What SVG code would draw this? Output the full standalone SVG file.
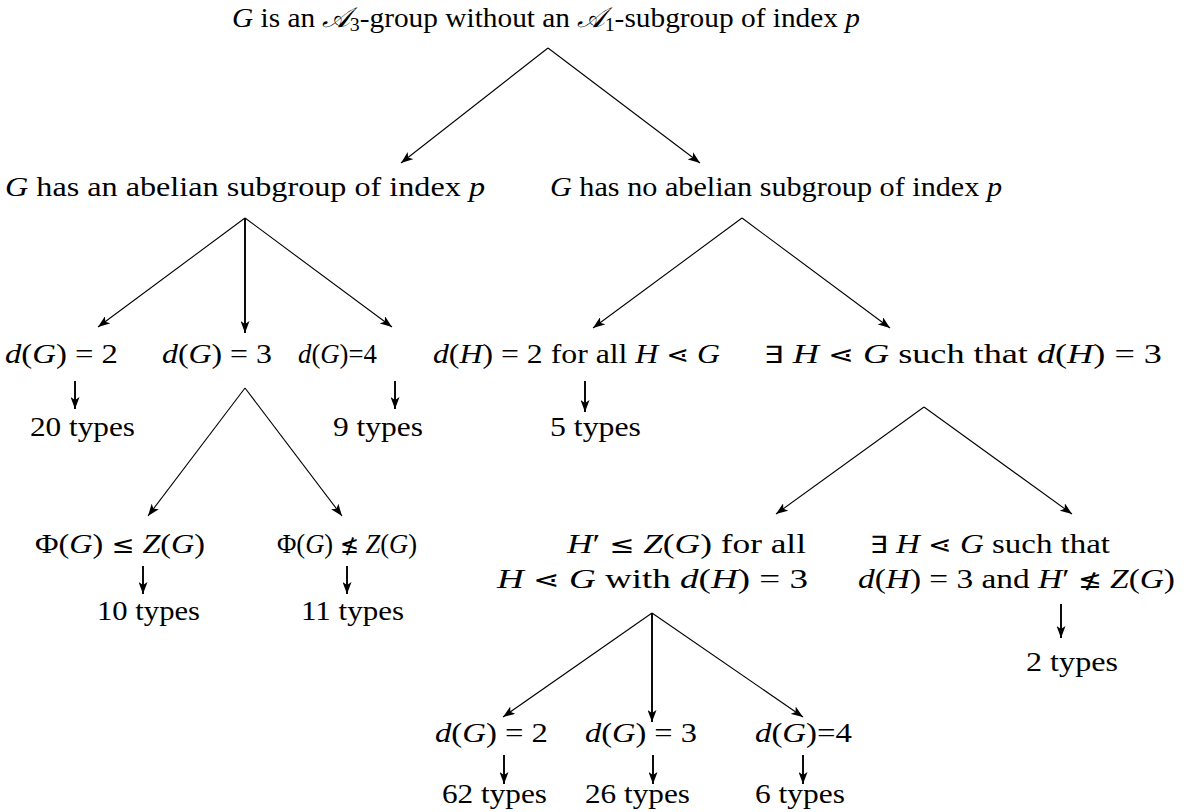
<svg xmlns="http://www.w3.org/2000/svg" width="1188" height="812" viewBox="0 0 1188 812">
<style>
text{font-family:"Liberation Serif","Times New Roman","DejaVu Serif",serif;font-size:28px;font-weight:400;fill:#000}
.i{font-style:italic}
.sub{font-size:19px}
.m{font-family:"DejaVu Sans",sans-serif;font-size:24px}
.thin{stroke:#000;stroke-width:1.1;fill:none}
.thick{stroke:#000;stroke-width:1.9;fill:none}
</style>
<defs>
<marker id="ah" markerUnits="userSpaceOnUse" markerWidth="13" markerHeight="9" refX="12" refY="4.5" orient="auto">
<path d="M0,0 L12,4.5 L0,9 L3,4.5 Z" fill="#000"/>
</marker>
</defs>
<rect width="1188" height="812" fill="#fff"/>
<g id="connectors">
<path class="thin" d="M548,48 L401,163" marker-end="url(#ah)"/>
<path class="thin" d="M548,48 L700,163" marker-end="url(#ah)"/>
<path class="thin" d="M245,218 L98,327" marker-end="url(#ah)"/>
<path class="thick" d="M245,218 L245,333" marker-end="url(#ah)"/>
<path class="thin" d="M245,218 L392,327" marker-end="url(#ah)"/>
<path class="thin" d="M742,218 L593,328" marker-end="url(#ah)"/>
<path class="thin" d="M742,218 L890,328" marker-end="url(#ah)"/>
<path class="thick" d="M75,381 L75,409" marker-end="url(#ah)"/>
<path class="thick" d="M395,381 L395,409" marker-end="url(#ah)"/>
<path class="thick" d="M585,381 L585,412" marker-end="url(#ah)"/>
<path class="thin" d="M245,388 L148,516" marker-end="url(#ah)"/>
<path class="thin" d="M245,388 L342,516" marker-end="url(#ah)"/>
<path class="thin" d="M924,407 L776,514" marker-end="url(#ah)"/>
<path class="thin" d="M924,407 L1072,514" marker-end="url(#ah)"/>
<path class="thick" d="M143,566 L143,594" marker-end="url(#ah)"/>
<path class="thick" d="M347,566 L347,594" marker-end="url(#ah)"/>
<path class="thick" d="M1061,604 L1061,638" marker-end="url(#ah)"/>
<path class="thin" d="M652,613 L503,717" marker-end="url(#ah)"/>
<path class="thick" d="M652,613 L652,722" marker-end="url(#ah)"/>
<path class="thin" d="M652,613 L803,717" marker-end="url(#ah)"/>
<path class="thick" d="M504,755 L504,784" marker-end="url(#ah)"/>
<path class="thick" d="M653,755 L653,784" marker-end="url(#ah)"/>
<path class="thick" d="M803,755 L803,784" marker-end="url(#ah)"/>
</g>
<g id="root"><text x="232" y="27" textLength="628" lengthAdjust="spacingAndGlyphs"><tspan class="i">G</tspan> is an <tspan class="i">𝒜</tspan><tspan class="sub" dy="4">3</tspan><tspan dy="-4">-group without an </tspan><tspan class="i">𝒜</tspan><tspan class="sub" dy="4">1</tspan><tspan dy="-4">-subgroup of index </tspan><tspan class="i">p</tspan></text></g>
<g id="abelian"><text x="5" y="196" textLength="480" lengthAdjust="spacingAndGlyphs"><tspan class="i">G</tspan> has an abelian subgroup of index <tspan class="i">p</tspan></text></g>
<g id="noabelian"><text x="550" y="196" textLength="452" lengthAdjust="spacingAndGlyphs"><tspan class="i">G</tspan> has no abelian subgroup of index <tspan class="i">p</tspan></text></g>
<g id="a-d2"><text x="5" y="363" textLength="113" lengthAdjust="spacingAndGlyphs"><tspan class="i">d</tspan>(<tspan class="i">G</tspan>) = 2</text></g>
<g id="a-d3"><text x="162" y="363" textLength="110" lengthAdjust="spacingAndGlyphs"><tspan class="i">d</tspan>(<tspan class="i">G</tspan>) = 3</text></g>
<g id="a-d4"><text x="298" y="363" textLength="79" lengthAdjust="spacingAndGlyphs"><tspan class="i">d</tspan>(<tspan class="i">G</tspan>)=4</text></g>
<g id="n-all"><text x="433" y="363" textLength="287" lengthAdjust="spacingAndGlyphs"><tspan class="i">d</tspan>(<tspan class="i">H</tspan>) = 2 for all <tspan class="i">H</tspan> <tspan class="m">⋖</tspan> <tspan class="i">G</tspan></text></g>
<g id="n-exists"><text x="764" y="363" textLength="398" lengthAdjust="spacingAndGlyphs"><tspan class="m">∃</tspan> <tspan class="i">H</tspan> <tspan class="m">⋖</tspan> <tspan class="i">G</tspan> such that <tspan class="i">d</tspan>(<tspan class="i">H</tspan>) = 3</text></g>
<g id="t20"><text x="30" y="436" textLength="105" lengthAdjust="spacingAndGlyphs">20 types</text></g>
<g id="t9"><text x="333" y="436" textLength="90" lengthAdjust="spacingAndGlyphs">9 types</text></g>
<g id="t5"><text x="550" y="436" textLength="91" lengthAdjust="spacingAndGlyphs">5 types</text></g>
<g id="phi-le"><text x="35" y="553" textLength="170" lengthAdjust="spacingAndGlyphs">Φ(<tspan class="i">G</tspan>) <tspan class="m">≤</tspan> <tspan class="i">Z</tspan>(<tspan class="i">G</tspan>)</text></g>
<g id="phi-nle"><text x="277" y="553" textLength="140" lengthAdjust="spacingAndGlyphs">Φ(<tspan class="i">G</tspan>) <tspan class="m">≰</tspan> <tspan class="i">Z</tspan>(<tspan class="i">G</tspan>)</text></g>
<g id="hprime-le"><text x="567" y="553" textLength="239" lengthAdjust="spacingAndGlyphs"><tspan class="i">H</tspan>′ <tspan class="m">≤</tspan> <tspan class="i">Z</tspan>(<tspan class="i">G</tspan>) for all</text><text x="497" y="588" textLength="311" lengthAdjust="spacingAndGlyphs"><tspan class="i">H</tspan> <tspan class="m">⋖</tspan> <tspan class="i">G</tspan> with <tspan class="i">d</tspan>(<tspan class="i">H</tspan>) = 3</text></g>
<g id="hprime-nle"><text x="870" y="553" textLength="240" lengthAdjust="spacingAndGlyphs"><tspan class="m">∃</tspan> <tspan class="i">H</tspan> <tspan class="m">⋖</tspan> <tspan class="i">G</tspan> such that</text><text x="858" y="588" textLength="317" lengthAdjust="spacingAndGlyphs"><tspan class="i">d</tspan>(<tspan class="i">H</tspan>) = 3 and <tspan class="i">H</tspan>′ <tspan class="m">≰</tspan> <tspan class="i">Z</tspan>(<tspan class="i">G</tspan>)</text></g>
<g id="t10"><text x="97" y="620" textLength="103" lengthAdjust="spacingAndGlyphs">10 types</text></g>
<g id="t11"><text x="301" y="620" textLength="103" lengthAdjust="spacingAndGlyphs">11 types</text></g>
<g id="t2"><text x="1026" y="671" textLength="92" lengthAdjust="spacingAndGlyphs">2 types</text></g>
<g id="b-d2"><text x="435" y="742" textLength="113" lengthAdjust="spacingAndGlyphs"><tspan class="i">d</tspan>(<tspan class="i">G</tspan>) = 2</text></g>
<g id="b-d3"><text x="585" y="742" textLength="112" lengthAdjust="spacingAndGlyphs"><tspan class="i">d</tspan>(<tspan class="i">G</tspan>) = 3</text></g>
<g id="b-d4"><text x="755" y="742" textLength="97" lengthAdjust="spacingAndGlyphs"><tspan class="i">d</tspan>(<tspan class="i">G</tspan>)=4</text></g>
<g id="t62"><text x="442" y="803" textLength="105" lengthAdjust="spacingAndGlyphs">62 types</text></g>
<g id="t26"><text x="585" y="803" textLength="105" lengthAdjust="spacingAndGlyphs">26 types</text></g>
<g id="t6"><text x="755" y="803" textLength="90" lengthAdjust="spacingAndGlyphs">6 types</text></g>
</svg>
